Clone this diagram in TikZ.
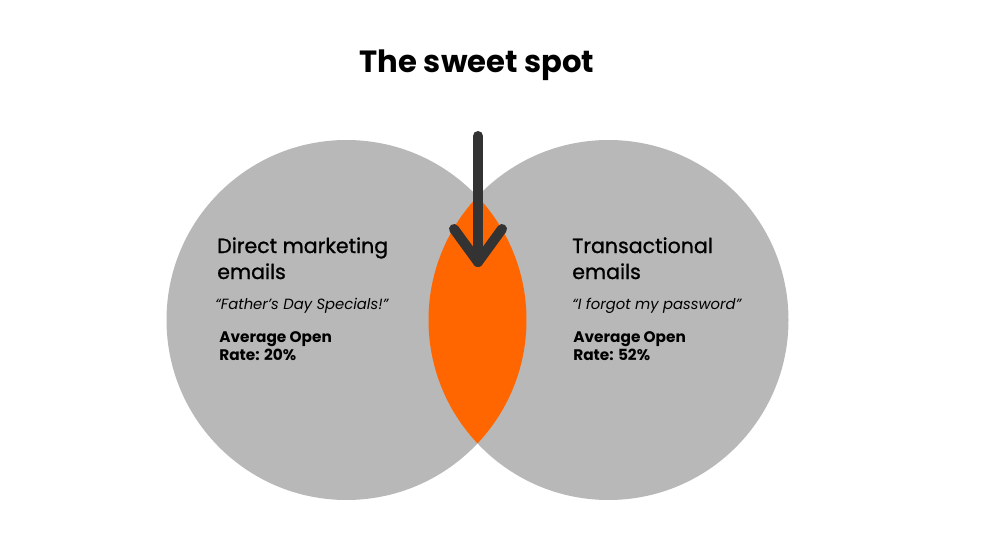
\documentclass[tikz,border=0pt]{standalone}
\usepackage{fontspec}
\setmainfont{Poppins}
\newfontfamily\medfont[FakeBold=1]{Poppins}
\definecolor{circgray}{HTML}{B8B8B8}
\definecolor{sweet}{HTML}{FF6600}
\definecolor{arrowdark}{HTML}{333333}
\begin{document}
\begin{tikzpicture}[x=0.75pt,y=-0.75pt,
  circ/.style={circle,fill=circgray,minimum size=270pt,inner sep=0pt,outer sep=0pt},
  heading/.style={anchor=base west,inner sep=0pt,font=\medfont\fontsize{15.4}{19.5}\selectfont,align=left},
  quote/.style={anchor=base west,inner sep=0pt,font=\itshape\fontsize{11.1}{14}\selectfont},
  rate/.style={anchor=base west,inner sep=0pt,font=\bfseries\fontsize{11.5}{13.5}\selectfont,align=left},
  arrowline/.style={draw=arrowdark,line width=7.5pt,line cap=round,line join=round}]
\useasboundingbox (0,0) rectangle (1000,556);
\node[anchor=base,inner sep=0pt,font=\bfseries\fontsize{23}{28}\selectfont] (title) at (477,73) {The sweet spot};
\node[circ] (left) at (346.5,320) {};
\node[circ] (right) at (608.5,320) {};
\begin{scope}
  \clip (left.center) circle[radius=180];
  \fill[sweet] (right.center) circle[radius=180];
\end{scope}
\node[heading] (lh) at (217,279) {Direct marketing\\emails};
\node[quote] (lq) at (215,309) {“Father’s Day Specials!”};
\node[rate] (lr) at (219,360) {Average Open\\Rate: 20\%};
\node[heading] (rh) at (572,279) {Transactional\\emails};
\node[quote] (rq) at (572,309) {“I forgot my password”};
\node[rate] (rr) at (573,360) {Average Open\\Rate: 52\%};
\coordinate (atop) at (478,136);
\coordinate (atip) at (478,262);
\coordinate (al) at (454,229);
\coordinate (ar) at (502,229);
\draw[arrowline] (atop) -- (atip);
\draw[arrowline] (al) -- (atip) -- (ar);
\end{tikzpicture}
\end{document}
